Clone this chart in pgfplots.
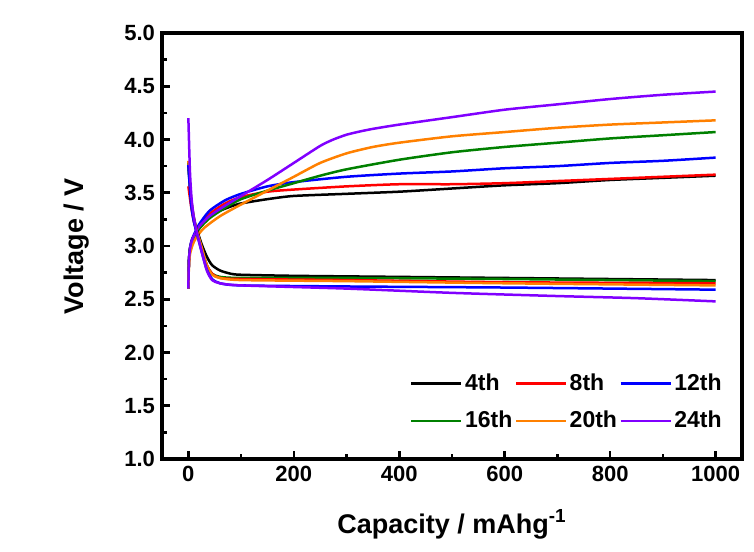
\documentclass[border=0pt]{standalone}
\usepackage{pgfplots}
\pgfplotsset{compat=1.18}
\usepackage{fontspec}
\setmainfont{Liberation Sans}
\definecolor{cgreen}{RGB}{0,128,0}
\definecolor{corange}{RGB}{255,128,0}
\definecolor{cpurple}{RGB}{128,0,255}
\begin{document}
\begin{tikzpicture}
\useasboundingbox (-81pt,-46pt) rectangle (296pt,229.5pt);
\begin{axis}[
  at={(0pt,0pt)}, anchor=south west,
  scale only axis, width=290pt, height=213pt,
  xmin=-50, xmax=1050, ymin=1.0, ymax=5.0,
  xtick={0,200,400,600,800,1000},
  ytick={1.0,1.5,2.0,2.5,3.0,3.5,4.0,4.5,5.0},
  minor tick num=1,
  xtick pos=bottom, ytick pos=left,
  tick align=inside,
  major tick length=4pt, minor tick length=2.5pt,
  every tick/.style={black, line width=1.3pt},
  axis line style={line width=1.9pt},
  /pgf/number format/assume math mode=true,
  ticklabel style={font=\bfseries\fontsize{11}{13}\selectfont},
  yticklabel style={/pgf/number format/.cd, fixed, fixed zerofill, precision=1},
  xticklabel style={/pgf/number format/.cd, fixed, 1000 sep={}},
  every axis x label/.style={at={(axis description cs:0.5,0)}, anchor=base, yshift=-37pt},
  every axis y label/.style={at={(axis description cs:0,0.5)}, rotate=90, anchor=center, yshift=42.5pt},
  label style={font=\bfseries\fontsize{13.5}{16}\selectfont},
  xlabel={Capacity / mAhg\textsuperscript{-1}},
  ylabel={Voltage / V},
  legend columns=3,
  legend style={draw=none, fill=none, at={(0.98,0.05)}, anchor=south east,
    font=\bfseries\fontsize{11.5}{13}\selectfont, row sep=6.5pt,
    nodes={inner sep=1.2pt}},
  legend cell align=left,
  legend image code/.code={\draw[#1] (0pt,0pt) -- (25pt,0pt);},
  every axis plot/.append style={line width=1.25pt, line join=round, smooth, tension=0.4},
]
% charge curves
\addplot[black] coordinates {(0,2.6)(1,2.85)(3,2.97)(6,3.03)(10,3.08)(20,3.16)(35,3.25)(55,3.32)(80,3.37)(100,3.40)(150,3.44)(200,3.47)(300,3.49)(400,3.51)(500,3.54)(600,3.57)(700,3.59)(800,3.62)(900,3.64)(1000,3.66)};
\addlegendentry{4th}
\addplot[red] coordinates {(0,2.6)(1,2.85)(3,2.97)(6,3.04)(10,3.09)(20,3.18)(40,3.30)(70,3.40)(100,3.46)(150,3.51)(200,3.53)(300,3.56)(400,3.58)(500,3.58)(600,3.59)(700,3.61)(800,3.63)(900,3.65)(1000,3.67)};
\addlegendentry{8th}
\addplot[blue] coordinates {(0,2.6)(1,2.86)(3,2.98)(6,3.05)(10,3.10)(20,3.20)(40,3.33)(70,3.43)(100,3.49)(150,3.56)(200,3.60)(300,3.65)(400,3.68)(500,3.70)(600,3.73)(700,3.75)(800,3.78)(900,3.80)(1000,3.83)};
\addlegendentry{12th}
\addplot[cgreen] coordinates {(0,2.6)(1,2.85)(3,2.97)(6,3.03)(10,3.08)(20,3.16)(40,3.26)(70,3.36)(100,3.44)(150,3.52)(200,3.59)(250,3.66)(300,3.72)(400,3.81)(500,3.88)(600,3.93)(700,3.97)(800,4.01)(900,4.04)(1000,4.07)};
\addlegendentry{16th}
\addplot[corange] coordinates {(0,2.6)(1,2.8)(3,2.92)(8,3.01)(15,3.08)(30,3.17)(60,3.28)(100,3.39)(150,3.52)(200,3.65)(250,3.78)(300,3.87)(350,3.93)(400,3.97)(500,4.03)(600,4.07)(700,4.11)(800,4.14)(900,4.16)(1000,4.18)};
\addlegendentry{20th}
\addplot[cpurple] coordinates {(0,2.6)(1,2.85)(3,2.97)(6,3.04)(10,3.09)(20,3.18)(40,3.28)(70,3.38)(100,3.47)(150,3.62)(200,3.78)(250,3.94)(275,4.00)(300,4.045)(325,4.075)(350,4.10)(400,4.14)(500,4.21)(600,4.28)(700,4.33)(800,4.38)(900,4.42)(1000,4.45)};
\addlegendentry{24th}
% discharge curves
\addplot[black, forget plot] coordinates {(0,3.75)(5,3.45)(10,3.28)(15,3.17)(25,3.02)(35,2.90)(45,2.82)(60,2.77)(80,2.74)(100,2.73)(200,2.72)(400,2.71)(600,2.70)(800,2.69)(1000,2.68)};
\addplot[cgreen, forget plot] coordinates {(0,3.78)(5,3.42)(10,3.25)(15,3.15)(25,2.98)(35,2.82)(45,2.74)(60,2.71)(100,2.70)(300,2.70)(600,2.69)(1000,2.67)};
\addplot[red, forget plot] coordinates {(0,3.56)(5,3.38)(10,3.24)(15,3.15)(25,2.98)(35,2.82)(45,2.74)(60,2.70)(100,2.69)(300,2.68)(600,2.66)(1000,2.65)};
\addplot[corange, forget plot] coordinates {(0,3.80)(5,3.45)(10,3.27)(15,3.16)(25,2.99)(35,2.82)(45,2.73)(60,2.70)(100,2.68)(300,2.67)(600,2.65)(1000,2.63)};
\addplot[blue, forget plot] coordinates {(0,3.76)(5,3.40)(10,3.24)(15,3.14)(25,2.95)(35,2.78)(45,2.69)(60,2.65)(100,2.63)(300,2.62)(600,2.61)(1000,2.59)};
\addplot[cpurple, forget plot] coordinates {(0,4.20)(3,3.70)(6,3.45)(10,3.28)(15,3.15)(25,2.95)(35,2.77)(45,2.68)(60,2.65)(100,2.63)(300,2.60)(500,2.56)(700,2.53)(850,2.51)(1000,2.48)};
\end{axis}
\end{tikzpicture}
\end{document}
